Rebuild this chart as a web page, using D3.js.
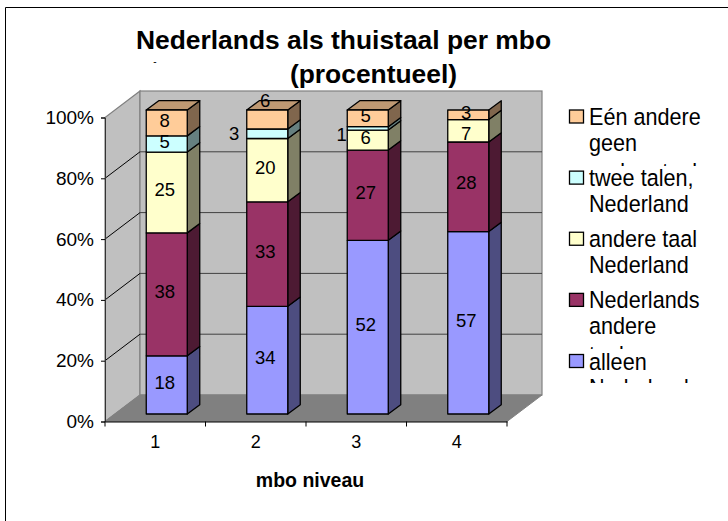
<!DOCTYPE html>
<html>
<head>
<meta charset="utf-8">
<script src="https://cdn.jsdelivr.net/npm/d3@7"></script>
<style>
  html, body { margin: 0; padding: 0; background: #fff; }
  svg { display: block; }
  text { font-family: "Liberation Sans", Arial, sans-serif; fill: #000; }
</style>
</head>
<body>
<div id="wrapper"></div>
<script>
// 1. data
const levels = ["1", "2", "3", "4"];
const seriesKeys = ["alleen", "beide", "andereTaal", "tweeTalen", "eenAndere"];
const alleen = [18, 34, 52, 57];
const beide = [38, 33, 27, 28];
const andereTaal = [25, 20, 6, 7];
const tweeTalen = [5, 3, 1, 0];
const eenAndere = [8, 6, 5, 3];
const colors = ["#9999ff", "#993366", "#ffffcc", "#ccffff", "#ffcc99"];
const yTicks = [0, 0.2, 0.4, 0.6, 0.8, 1];
const titleLines = ["Nederlands als thuistaal per mbo", "(procentueel)"];
const xTitle = "mbo niveau";
const legendLabels = [
  ["Eén andere", "geen", "andere taal"],
  ["twee talen,", "Nederland"],
  ["andere taal", "Nederland"],
  ["Nederlands", "andere", "taal"],
  ["alleen", "Nederlands"]
];

const table = levels.map((level, i) => ({
  level,
  alleen: alleen[i],
  beide: beide[i],
  andereTaal: andereTaal[i],
  tweeTalen: tweeTalen[i],
  eenAndere: eenAndere[i]
}));

// 2. dimensions
const width = 728;
const height = 521;
const plot = { left: 105, right: 507, bottom: 421.5, top: 117.5 };
const wall = { dx: 35, dy: -26.5 };   // depth of the whole box
const barShift = { dx: 11.5, dy: -7.5 }; // front of the bars inside the box
const barDepth = { dx: 12.5, dy: -9.3 };

const svg = d3.select("#wrapper").append("svg")
  .attr("width", width)
  .attr("height", height);

// frame, top and left only
svg.append("path")
  .attr("d", d3.line()([[5.5, 521], [5.5, 7.5], [728, 7.5]]))
  .attr("fill", "none")
  .attr("stroke", "#000");

// 3. scales
const xScale = d3.scaleBand()
  .domain(levels)
  .range([plot.left, plot.right])
  .paddingInner(0.592)
  .paddingOuter(0.296);
const xBand = d3.scaleBand().domain(levels).range([plot.left, plot.right]);
const yScale = d3.scaleLinear().domain([0, 1]).range([plot.bottom, plot.top]);
const stacked = d3.stack().keys(seriesKeys).offset(d3.stackOffsetExpand)(table);

const poly = pts => d3.line()(pts) + "Z";
const shade = (c, k) => {
  const r = d3.rgb(c);
  return d3.rgb(r.r * k, r.g * k, r.b * k).formatHex();
};

// 4. walls, floor, gridlines
const box = svg.append("g");
const yBottom = yScale(0);
const yTop = yScale(1);
box.append("path")
  .attr("d", poly([[plot.left, yBottom], [plot.left + wall.dx, yBottom + wall.dy],
    [plot.left + wall.dx, yTop + wall.dy], [plot.left, yTop]]))
  .attr("fill", "#c0c0c0").attr("stroke", "#808080").attr("stroke-width", 1.2);
box.append("rect")
  .attr("x", plot.left + wall.dx)
  .attr("y", yTop + wall.dy)
  .attr("width", plot.right - plot.left)
  .attr("height", yBottom - yTop)
  .attr("fill", "#c0c0c0").attr("stroke", "#808080").attr("stroke-width", 1.2);
box.append("path")
  .attr("d", poly([[plot.left, yBottom], [plot.right, yBottom],
    [plot.right + wall.dx, yBottom + wall.dy], [plot.left + wall.dx, yBottom + wall.dy]]))
  .attr("fill", "#808080").attr("stroke", "#808080");

const grid = yTicks.filter(t => t > 0 && t < 1);
box.selectAll(".grid-back").data(grid).join("line")
  .attr("class", "grid-back")
  .attr("x1", plot.left + wall.dx)
  .attr("x2", plot.right + wall.dx)
  .attr("y1", d => yScale(d) + wall.dy)
  .attr("y2", d => yScale(d) + wall.dy)
  .attr("stroke", "#404040");
box.selectAll(".grid-side").data(grid).join("line")
  .attr("class", "grid-side")
  .attr("x1", plot.left)
  .attr("x2", plot.left + wall.dx)
  .attr("y1", d => yScale(d))
  .attr("y2", d => yScale(d) + wall.dy)
  .attr("stroke", "#000");

// 5. bars
const bars = svg.append("g").attr("stroke", "#000").attr("stroke-width", 1.3).attr("stroke-linejoin", "round");
stacked.forEach((layer, s) => {
  const g = bars.append("g");
  const c = colors[s];
  layer.forEach(d => {
    const lvl = d.data.level;
    if (d.data[layer.key] === 0) return;
    const x0 = xScale(lvl) + barShift.dx;
    const x1 = x0 + xScale.bandwidth();
    const y0 = yScale(d[0]) + barShift.dy;
    const y1 = yScale(d[1]) + barShift.dy;
    g.append("path")
      .attr("d", poly([[x1, y0], [x1 + barDepth.dx, y0 + barDepth.dy],
        [x1 + barDepth.dx, y1 + barDepth.dy], [x1, y1]]))
      .attr("fill", shade(c, 0.5));
    if (d[1] === 1) {
      g.append("path")
        .attr("d", poly([[x0, y1], [x1, y1], [x1 + barDepth.dx, y1 + barDepth.dy],
          [x0 + barDepth.dx, y1 + barDepth.dy]]))
        .attr("fill", shade(c, 0.75));
    }
    g.append("rect")
      .attr("x", x0).attr("y", y1)
      .attr("width", x1 - x0).attr("height", y0 - y1)
      .attr("fill", c);
  });
});

// 6. data labels. a few were dragged by hand in the original
const nudge = { "beide-4": [0, -2], "andereTaal-4": [0, 5], "tweeTalen-2": [-31, 2], "eenAndere-2": [0, -16], "tweeTalen-3": [-24, 9] };
const labels = svg.append("g").attr("font-size", 18.5).attr("text-anchor", "middle");
stacked.forEach(layer => {
  layer.forEach(d => {
    const v = d.data[layer.key];
    if (v === 0) return;
    const n = nudge[layer.key + "-" + d.data.level] || [0, 0];
    labels.append("text")
      .attr("x", xScale(d.data.level) + xScale.bandwidth() / 2 + barShift.dx - 2 + n[0])
      .attr("y", yScale((d[0] + d[1]) / 2) + barShift.dy - 2.5 + n[1])
      .attr("dy", "0.35em")
      .text(v);
  });
});

// 7. axes
const yAxis = svg.append("g")
  .attr("transform", `translate(${plot.left},0)`)
  .call(d3.axisLeft(yScale).tickValues(yTicks).tickFormat(d3.format(".0%")).tickSize(4).tickPadding(7));
yAxis.selectAll("text").attr("font-size", 19).style("font-family", "Liberation Sans").attr("fill", "#000");
yAxis.selectAll("line").attr("stroke", "#000");
yAxis.select(".domain").attr("stroke", "#333");

const xAxis = svg.append("g")
  .attr("transform", `translate(0,${plot.bottom})`)
  .call(d3.axisBottom(xBand).tickSize(0).tickPadding(14));
xAxis.selectAll("text").attr("font-size", 18).style("font-family", "Liberation Sans").attr("fill", "#000");
xAxis.select(".domain").attr("stroke", "#000");
xAxis.selectAll(".edge").data([...levels.map(l => xBand(l)), plot.right]).join("line")
  .attr("class", "edge")
  .attr("x1", d => d).attr("x2", d => d)
  .attr("y1", 0).attr("y2", 5)
  .attr("stroke", "#000");

// 8. titles
svg.append("text").attr("x", 343.5).attr("y", 49)
  .attr("text-anchor", "middle").attr("font-size", 26.4).attr("font-weight", "bold")
  .text(titleLines[0]);
svg.append("text").attr("x", 373.5).attr("y", 83)
  .attr("text-anchor", "middle").attr("font-size", 26.4).attr("font-weight", "bold")
  .text(titleLines[1]);
svg.append("text").attr("x", 155).attr("y", 65)
  .attr("text-anchor", "middle").attr("font-size", 10)
  .text("-");
svg.append("text").attr("x", 310).attr("y", 487)
  .attr("text-anchor", "middle").attr("font-size", 19.5).attr("font-weight", "bold")
  .text(xTitle);

// 9. legend, the text box of the original cuts off the extra lines
const legendY = d3.scalePoint()
  .domain(d3.range(legendLabels.length))
  .range([116.5, 361]);
const legendClipEnd = [166, null, null, 349, 383];
const legend = svg.append("g");
legendLabels.forEach((lines, i) => {
  const cy = legendY(i);
  legend.append("rect")
    .attr("x", 569.5).attr("y", cy - 6.5)
    .attr("width", 14).attr("height", 13)
    .attr("fill", colors[colors.length - 1 - i])
    .attr("stroke", "#000").attr("stroke-width", 1.3);
  const clipId = "legend-clip-" + i;
  if (legendClipEnd[i]) {
    svg.append("clipPath").attr("id", clipId).append("rect")
      .attr("x", 585).attr("y", cy - 20)
      .attr("width", 130).attr("height", legendClipEnd[i] - (cy - 20));
  }
  const entry = legend.append("g")
    .attr("clip-path", legendClipEnd[i] ? `url(#${clipId})` : null);
  lines.forEach((line, j) => {
    const lineY = cy + 8.5 + j * 26 + (j === 2 ? 3 : 0);
    entry.append("text")
      .attr("transform", `translate(589,${lineY}) scale(0.92,1)`)
      .attr("font-size", 23.5)
      .text(line);
  });
});
</script>
</body>
</html>
